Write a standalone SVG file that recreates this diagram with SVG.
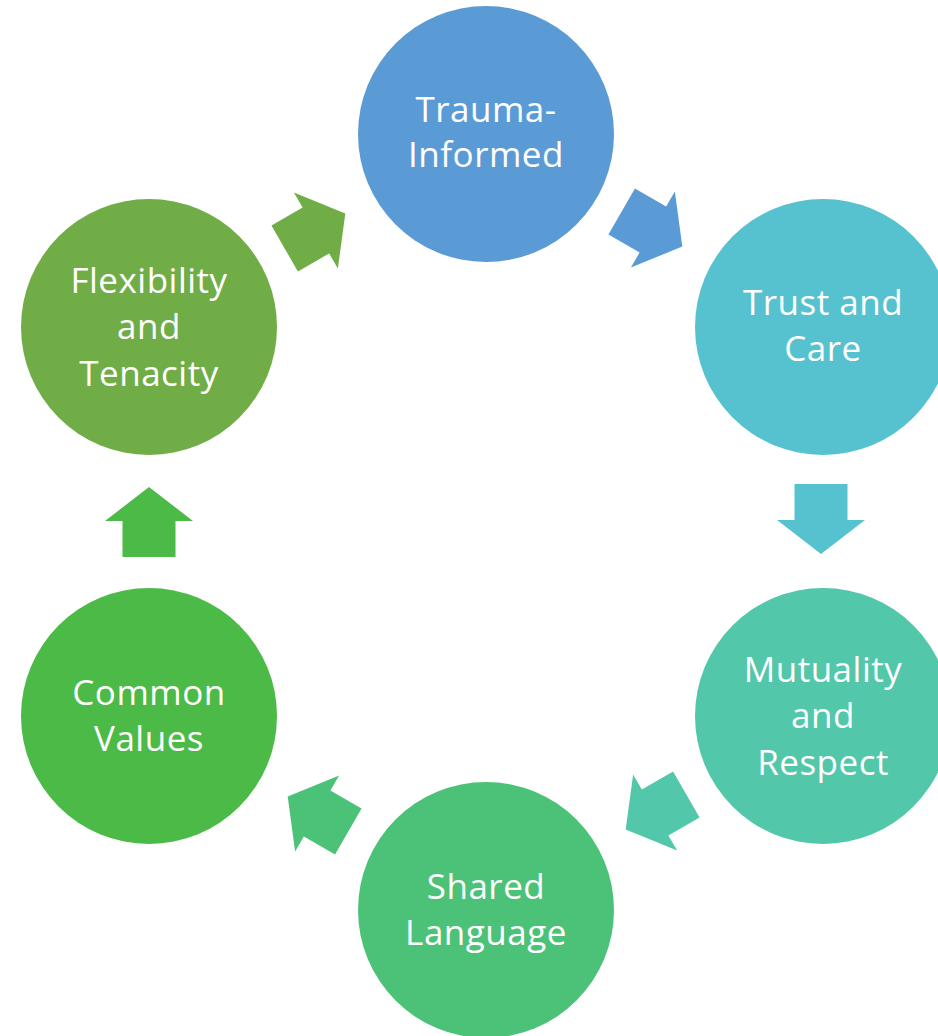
<svg xmlns="http://www.w3.org/2000/svg" width="938" height="1036" viewBox="0 0 938 1036">
<defs>
<style>
.lbl{font-family:"Open Sans","Liberation Sans",sans-serif;font-size:35px;fill:#ffffff;text-anchor:middle;letter-spacing:0.5px}
</style>
<polygon id="arr" points="-35,-26.5 1,-26.5 1,-44 35,0 1,44 1,26.5 -35,26.5"/>
</defs>
<rect width="938" height="1036" fill="#ffffff"/>
<g id="connectors">
<use href="#arr" fill="#5B9BD5" transform="translate(652,229) rotate(30)"/>
<use href="#arr" fill="#56C2CF" transform="translate(821,519) rotate(90)"/>
<use href="#arr" fill="#52C7A9" transform="translate(656,812) rotate(150)"/>
<use href="#arr" fill="#4CC278" transform="translate(318,814) rotate(210)"/>
<use href="#arr" fill="#4CBA46" transform="translate(149,522) rotate(270)"/>
<use href="#arr" fill="#71AD47" transform="translate(315,231) rotate(330)"/>
</g>
<g id="node-trauma">
<circle cx="486" cy="134" r="128" fill="#5B9BD5"/>
<text class="lbl" x="486" y="122">Trauma-</text>
<text class="lbl" x="486" y="167">Informed</text>
</g>
<g id="node-trust">
<circle cx="823" cy="327" r="128" fill="#56C2CF"/>
<text class="lbl" x="823" y="315">Trust and</text>
<text class="lbl" x="823" y="361">Care</text>
</g>
<g id="node-mutuality">
<circle cx="823" cy="716" r="128" fill="#52C7A9"/>
<text class="lbl" x="823" y="682">Mutuality</text>
<text class="lbl" x="823" y="728">and</text>
<text class="lbl" x="823" y="775">Respect</text>
</g>
<g id="node-shared">
<circle cx="486" cy="910" r="128" fill="#4CC278"/>
<text class="lbl" x="486" y="899">Shared</text>
<text class="lbl" x="486" y="945">Language</text>
</g>
<g id="node-common">
<circle cx="149" cy="716" r="128" fill="#4CBA46"/>
<text class="lbl" x="149" y="705">Common</text>
<text class="lbl" x="149" y="751">Values</text>
</g>
<g id="node-flex">
<circle cx="149" cy="327" r="128" fill="#71AD47"/>
<text class="lbl" x="149" y="293">Flexibility</text>
<text class="lbl" x="149" y="339">and</text>
<text class="lbl" x="149" y="386">Tenacity</text>
</g>
</svg>
